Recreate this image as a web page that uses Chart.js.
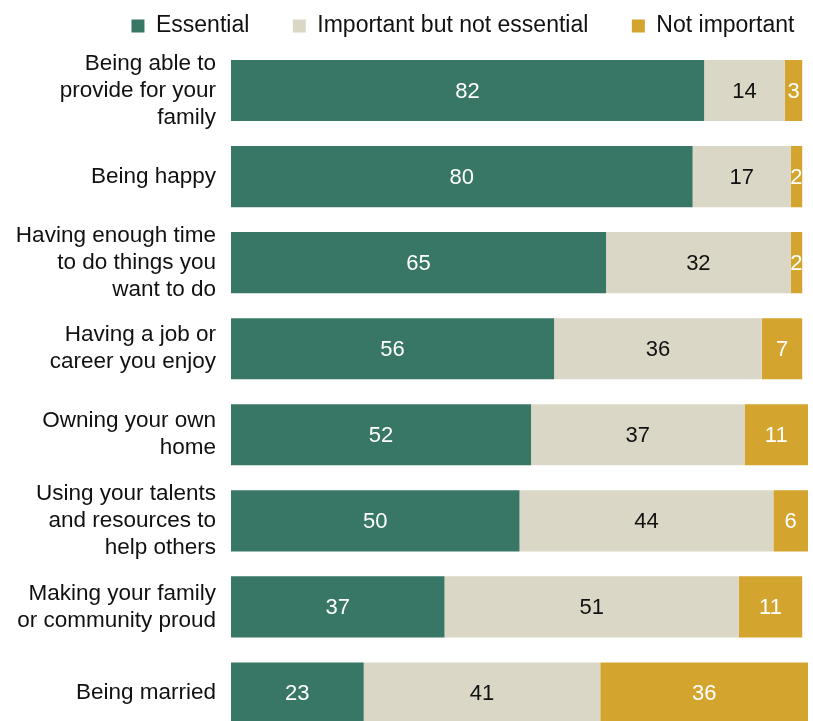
<!DOCTYPE html>
<html>
<head>
<meta charset="utf-8">
<script src="https://cdn.jsdelivr.net/npm/chart.js@4"></script>
<style>
  html, body { margin: 0; padding: 0; background: #fff; overflow: hidden; }
  #wrap { width: 813px; height: 736px; }
</style>
</head>
<body>
<div id="wrap"><canvas id="grafico"></canvas></div>
<script>
const categorias = [
  ["Being able to", "provide for your", "family"],
  ["Being happy"],
  ["Having enough time", "to do things you", "want to do"],
  ["Having a job or", "career you enjoy"],
  ["Owning your own", "home"],
  ["Using your talents", "and resources to", "help others"],
  ["Making your family", "or community proud"],
  ["Being married"]
];
const essencial = [82, 80, 65, 56, 52, 50, 37, 23];
const importante = [14, 17, 32, 36, 37, 44, 51, 41];
const naoImportante = [3, 2, 2, 7, 11, 6, 11, 36];

const fonte = "'Liberation Sans', Arial, sans-serif";

// escreve o valor de cada segmento no meio da barra
const rotulos = {
  id: 'rotulos',
  afterDatasetsDraw(chart) {
    const ctx = chart.ctx;
    ctx.save();
    ctx.font = '22px ' + fonte;
    ctx.textAlign = 'center';
    ctx.textBaseline = 'middle';
    chart.data.datasets.forEach((ds, i) => {
      chart.getDatasetMeta(i).data.forEach((bar, j) => {
        const meio = (bar.x + bar.base) / 2;
        ctx.fillStyle = ds.corTexto;
        ctx.fillText(String(ds.data[j]), meio, bar.y + 1);
      });
    });
    ctx.restore();
  }
};

new Chart(document.getElementById('grafico'), {
  type: 'bar',
  data: {
    labels: categorias,
    datasets: [
      { label: 'Essential', data: essencial, backgroundColor: '#387665', corTexto: '#ffffff' },
      { label: 'Important but not essential', data: importante, backgroundColor: '#dad7c6', corTexto: '#111111' },
      { label: 'Not important', data: naoImportante, backgroundColor: '#d3a52e', corTexto: '#ffffff' }
    ]
  },
  options: {
    indexAxis: 'y',
    responsive: true,
    maintainAspectRatio: false,
    animation: false,
    barPercentage: 1,
    categoryPercentage: 0.71,
    layout: { padding: { left: 0, right: 5, top: 0, bottom: 0 } },
    scales: {
      x: { stacked: true, min: 0, max: 100, display: false },
      y: {
        stacked: true,
        grid: { display: false },
        border: { display: false },
        ticks: {
          color: '#111111',
          padding: 7,
          font: { family: fonte, size: 22.5, lineHeight: 1.2 }
        },
        // largura fixa do eixo e espaço acima das barras para a legenda
        afterFit(scale) {
          scale.width = 231;
          scale.paddingTop = 47.5;
          scale.paddingBottom = 0;
        }
      }
    },
    plugins: {
      legend: {
        position: 'top',
        align: 'end',
        labels: {
          color: '#111111',
          boxWidth: 13,
          boxHeight: 13,
          padding: 9,
          font: { family: fonte, size: 23 },
          // afasta um item do outro sem mexer no espaço vertical
          generateLabels(chart) {
            const itens = Chart.defaults.plugins.legend.labels.generateLabels(chart);
            itens.forEach((item, i) => {
              item.text += (i < itens.length - 1) ? '\u2003\u2002' : '\u2009';
            });
            return itens;
          }
        }
      },
      tooltip: { enabled: false }
    }
  },
  plugins: [rotulos]
});
</script>
</body>
</html>
